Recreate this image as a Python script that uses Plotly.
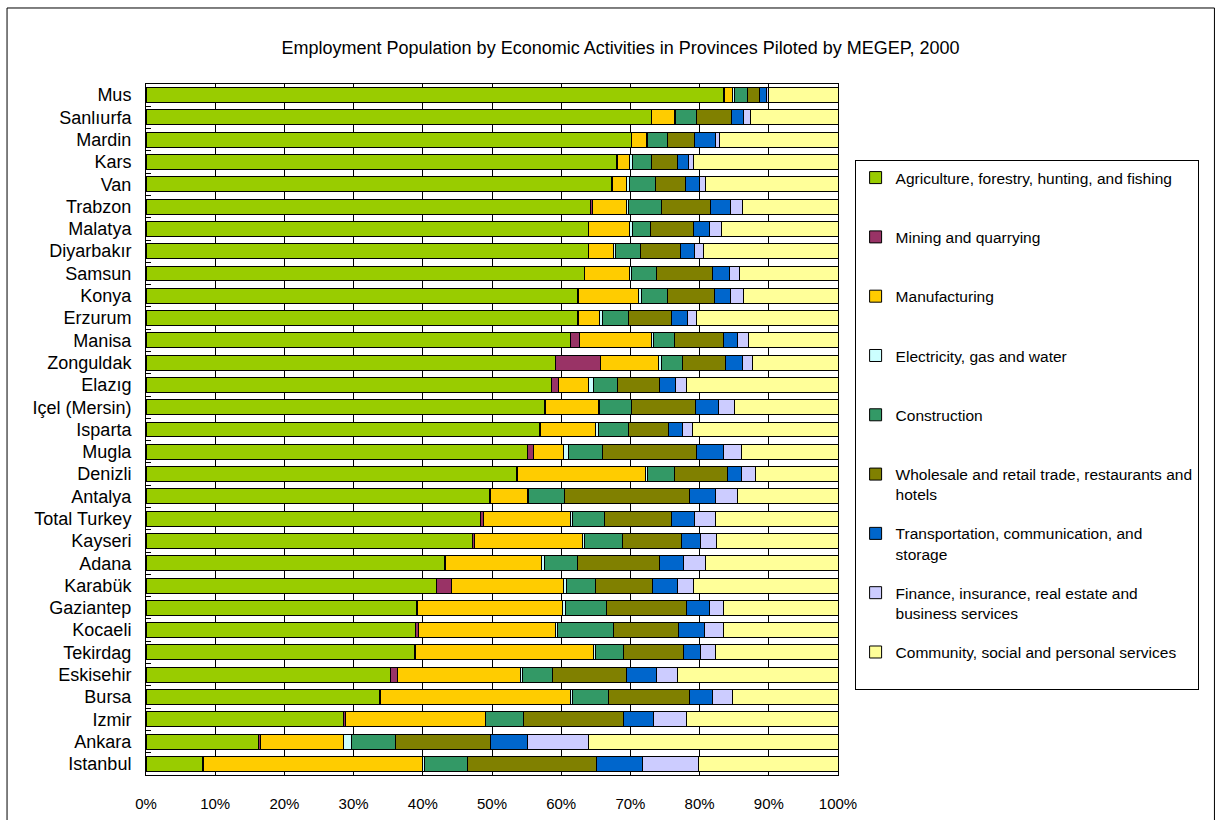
import plotly.graph_objects as go

provinces = ["Mus", "Sanlıurfa", "Mardin", "Kars", "Van", "Trabzon", "Malatya", "Diyarbakır",
             "Samsun", "Konya", "Erzurum", "Manisa", "Zonguldak", "Elazıg", "Içel (Mersin)",
             "Isparta", "Mugla", "Denizli", "Antalya", "Total Turkey", "Kayseri", "Adana",
             "Karabük", "Gaziantep", "Kocaeli", "Tekirdag", "Eskisehir", "Bursa", "Izmir",
             "Ankara", "Istanbul"]

agriculture = [83.5, 73.1, 70.1, 68.0, 67.3, 64.3, 63.9, 63.9, 63.3, 62.4, 62.4, 61.4, 59.2, 58.6, 57.6,
               56.9, 55.1, 53.5, 49.7, 48.4, 47.2, 43.1, 42.0, 39.1, 38.9, 38.8, 35.3, 33.7, 28.6, 16.2, 8.1]
mining = [0.1, 0.0, 0.1, 0.1, 0.1, 0.2, 0.1, 0.1, 0.1, 0.1, 0.1, 1.3, 6.5, 1.0, 0.1,
          0.1, 0.9, 0.2, 0.1, 0.4, 0.3, 0.2, 2.2, 0.1, 0.5, 0.2, 1.1, 0.2, 0.2, 0.4, 0.2]
manufacturing = [1.1, 3.2, 2.1, 1.8, 2.1, 4.9, 5.9, 3.5, 6.5, 8.7, 3.0, 10.4, 8.3, 4.3, 7.7,
                 8.0, 4.4, 18.5, 5.3, 12.5, 15.6, 13.9, 16.2, 21.0, 19.8, 25.6, 17.7, 27.5, 20.2, 12.0, 31.6]
electricity = [0.3, 0.2, 0.2, 0.4, 0.3, 0.3, 0.4, 0.3, 0.3, 0.4, 0.5, 0.3, 0.5, 0.7, 0.1,
               0.4, 0.7, 0.2, 0.2, 0.3, 0.3, 0.4, 0.3, 0.4, 0.2, 0.4, 0.3, 0.3, 0.1, 1.1, 0.3]
construction = [1.9, 3.0, 2.9, 2.8, 3.8, 4.8, 2.6, 3.7, 3.6, 3.7, 3.7, 3.0, 3.0, 3.6, 4.6,
                4.3, 4.9, 3.9, 5.2, 4.6, 5.5, 4.8, 4.3, 6.0, 8.2, 4.0, 4.4, 5.1, 5.4, 6.4, 6.2]
wholesale = [1.8, 5.1, 3.9, 3.7, 4.3, 7.1, 6.2, 5.7, 8.0, 6.9, 6.2, 7.1, 6.2, 6.0, 9.3,
             5.8, 13.6, 7.7, 18.1, 9.7, 8.5, 11.8, 8.2, 11.5, 9.4, 8.7, 10.6, 11.7, 14.5, 13.7, 18.7]
transport = [1.0, 1.8, 3.0, 1.6, 2.1, 2.8, 2.3, 2.1, 2.5, 2.2, 2.4, 2.0, 2.5, 2.3, 3.4,
             2.1, 3.9, 2.1, 3.7, 3.4, 2.7, 3.5, 3.6, 3.3, 3.7, 2.5, 4.4, 3.4, 4.4, 5.3, 6.6]
finance = [0.3, 0.9, 0.6, 0.7, 0.9, 1.8, 1.8, 1.2, 1.5, 2.0, 1.3, 1.6, 1.4, 1.6, 2.3,
           1.4, 2.5, 2.0, 3.2, 3.0, 2.3, 3.2, 2.3, 2.1, 2.7, 2.1, 3.0, 2.9, 4.7, 8.8, 8.2]
community = [10.0, 12.7, 17.1, 20.9, 19.1, 13.8, 16.8, 19.5, 14.2, 13.6, 20.4, 12.9, 12.4, 21.9, 14.9,
             21.0, 14.0, 11.9, 14.5, 17.7, 17.6, 19.1, 20.9, 16.5, 16.6, 17.7, 23.2, 15.2, 21.9, 36.1, 20.1]

series_names = [
    "Agriculture, forestry, hunting, and fishing<br>\u00a0",
    "Mining and quarrying<br>\u00a0",
    "Manufacturing<br>\u00a0",
    "Electricity, gas and water<br>\u00a0",
    "Construction<br>\u00a0",
    "Wholesale and retail trade, restaurants and<br>hotels",
    "Transportation, communication, and<br>storage",
    "Finance, insurance, real estate and<br>business services",
    "Community, social and personal services<br>\u00a0",
]
series_values = [agriculture, mining, manufacturing, electricity, construction,
                 wholesale, transport, finance, community]
series_colors = ["#99CC00", "#993366", "#FFCC00", "#CCFFFF", "#339966",
                 "#808000", "#0066CC", "#CCCCFF", "#FFFF99"]

FONT = "Liberation Sans"

fig = go.Figure()
for i, (name, vals, col) in enumerate(zip(series_names, series_values, series_colors)):
    fig.add_trace(go.Bar(
        y=provinces, x=vals, name=name, orientation="h",
        marker=dict(color=col, line=dict(color="#000000", width=1)),
        legendgroup=f"g{i}",
    ))

fig.update_layout(
    barmode="stack",
    bargap=0.33,
    width=1222, height=820,
    margin=dict(l=146, r=384, t=84, b=45),
    paper_bgcolor="white", plot_bgcolor="white",
    font=dict(family=FONT, size=15, color="black"),
    title=dict(text="Employment Population by Economic Activities in Provinces Piloted by MEGEP, 2000",
               x=0.5078, xanchor="center", y=0.942, yanchor="middle",
               font=dict(family=FONT, size=18, color="black")),
    showlegend=True,
    legend=dict(
        x=1.024, xanchor="left", y=0.89, yanchor="top",
        bgcolor="white", bordercolor="black", borderwidth=1,
        font=dict(family=FONT, size=15.5, color="black"),
        traceorder="grouped", tracegroupgap=16, valign="top",
        itemwidth=30,
    ),
    xaxis=dict(
        range=[0, 100], dtick=10, ticksuffix="%", showgrid=True, gridcolor="black", gridwidth=1,
        zeroline=False, showline=True, linecolor="black", linewidth=1, mirror=True,
        ticks="", tickfont=dict(family=FONT, size=15, color="black"), ticklabelstandoff=15,
        automargin=False,
    ),
    yaxis=dict(
        autorange="reversed", showgrid=False, showline=True, linecolor="black", linewidth=1,
        mirror=True, ticks="inside", ticklen=5, tickcolor="black", tickson="boundaries",
        tickfont=dict(family=FONT, size=18, color="black"), ticklabelstandoff=10,
        automargin=False,
    ),
    shapes=[dict(type="rect", xref="paper", yref="paper",
                 x0=-0.2008, x1=1.544, y0=-0.08, y1=1.11,
                 line=dict(color="black", width=1), fillcolor="rgba(0,0,0,0)", layer="below")],
)

fig.write_html("out.html")
